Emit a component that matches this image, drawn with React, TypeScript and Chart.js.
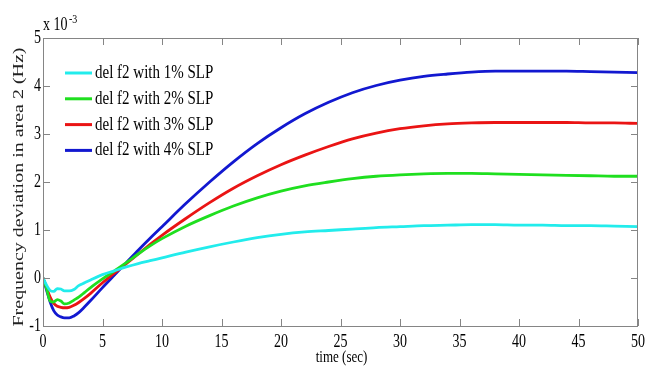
import React, { useEffect, useRef } from "react";
import { Chart, registerables } from "chart.js";

Chart.register(...registerables);

// Simulation time (sec)
const time = [0, 0.3, 0.6, 0.9, 1.2, 1.5, 1.8, 2.2, 2.6, 3, 3.5, 4, 5, 6, 7, 8, 9, 10, 12, 14, 16, 18, 20, 22, 24, 26, 28, 30, 32, 34, 36, 38, 40, 42, 44, 46, 48, 50];

// Frequency deviation in area 2, in units of 1e-3 Hz
const slp1 = [0, -0.15, -0.26, -0.28, -0.22, -0.23, -0.27, -0.27, -0.24, -0.16, -0.1, -0.04, 0.07, 0.15, 0.23, 0.3, 0.36, 0.42, 0.54, 0.65, 0.75, 0.84, 0.91, 0.96, 0.99, 1.02, 1.05, 1.07, 1.09, 1.1, 1.11, 1.11, 1.1, 1.1, 1.09, 1.09, 1.08, 1.07];
const slp2 = [0, -0.22, -0.48, -0.5, -0.45, -0.48, -0.54, -0.52, -0.46, -0.4, -0.3, -0.2, -0.02, 0.15, 0.32, 0.5, 0.67, 0.82, 1.08, 1.3, 1.5, 1.67, 1.81, 1.92, 2.0, 2.07, 2.12, 2.15, 2.17, 2.18, 2.18, 2.17, 2.16, 2.15, 2.14, 2.13, 2.12, 2.12];
const slp3 = [0, -0.2, -0.4, -0.53, -0.59, -0.61, -0.62, -0.61, -0.57, -0.51, -0.42, -0.32, -0.1, 0.1, 0.3, 0.5, 0.7, 0.89, 1.24, 1.57, 1.87, 2.13, 2.36, 2.56, 2.74, 2.9, 3.02, 3.11, 3.17, 3.21, 3.23, 3.24, 3.24, 3.24, 3.24, 3.23, 3.23, 3.22];
const slp4 = [0, -0.25, -0.5, -0.68, -0.77, -0.81, -0.83, -0.83, -0.79, -0.72, -0.6, -0.47, -0.2, 0.06, 0.32, 0.58, 0.83, 1.07, 1.55, 2.0, 2.42, 2.8, 3.13, 3.42, 3.66, 3.86, 4.01, 4.12, 4.2, 4.25, 4.29, 4.31, 4.31, 4.31, 4.31, 4.3, 4.29, 4.28];

const seriesLabels = ["del f2 with 1% SLP", "del f2 with 2% SLP", "del f2 with 3% SLP", "del f2 with 4% SLP"];
const seriesColors = ["#22ecec", "#1fdf1f", "#ea1414", "#1218d0"];

const xTicks = [0, 5, 10, 15, 20, 25, 30, 35, 40, 45, 50];
const yTicks = [-1, 0, 1, 2, 3, 4, 5];

const xTitle = "time (sec)";
const yTitle = "Frequency deviation in area 2 (Hz)";

const SERIF = "'Liberation Serif', 'Times New Roman', serif";
const STRETCH = 1.28; // tall, narrow lettering

function drawText(
  ctx: CanvasRenderingContext2D,
  text: string,
  x: number,
  y: number,
  font: string,
  align: CanvasTextAlign,
  baseline: CanvasTextBaseline,
  sx = 1,
  sy = STRETCH,
  rot = 0,
  color = "#000"
) {
  ctx.save();
  ctx.translate(x, y);
  if (rot) ctx.rotate(rot);
  ctx.scale(sx, sy);
  ctx.font = font;
  ctx.textAlign = align;
  ctx.textBaseline = baseline;
  ctx.fillStyle = color;
  ctx.fillText(text, 0, 0);
  ctx.restore();
}

const framePlugin = {
  id: "matlabFrame",
  afterDatasetsDraw(chart: any) {
    const { ctx, chartArea: a, scales } = chart;
    const xs = scales.x;
    const ys = scales.y;
    ctx.save();
    ctx.strokeStyle = "#858585";
    ctx.lineWidth = 1;
    ctx.strokeRect(a.left + 0.5, a.top + 0.5, a.right - a.left - 1, a.bottom - a.top);
    const tl = 7;
    ctx.beginPath();
    for (const t of xs.ticks) {
      const px = Math.round(xs.getPixelForValue(t.value)) + 0.5;
      ctx.moveTo(px, a.bottom);
      ctx.lineTo(px, a.bottom - tl);
      ctx.moveTo(px, a.top);
      ctx.lineTo(px, a.top + tl);
    }
    for (const t of ys.ticks) {
      const py = Math.round(ys.getPixelForValue(t.value)) + 0.5;
      ctx.moveTo(a.left, py);
      ctx.lineTo(a.left + tl, py);
      ctx.moveTo(a.right, py);
      ctx.lineTo(a.right - tl, py);
    }
    ctx.stroke();
    ctx.restore();

    // tick labels
    for (const t of xs.ticks) {
      drawText(ctx, String(t.value), xs.getPixelForValue(t.value), a.bottom + 21, `14px ${SERIF}`, "center", "alphabetic");
    }
    for (const t of ys.ticks) {
      drawText(ctx, String(t.value), a.left - 2, ys.getPixelForValue(t.value) + 5, `14px ${SERIF}`, "right", "alphabetic");
    }

    // exponent
    drawText(ctx, "x 10", a.left, a.top - 8, `14px ${SERIF}`, "left", "alphabetic");
    drawText(ctx, "-3", a.left + 26, a.top - 15, `10px ${SERIF}`, "left", "alphabetic");

    // axis titles
    drawText(ctx, xTitle, (a.left + a.right) / 2 + 1, a.bottom + 36, `13px ${SERIF}`, "center", "alphabetic");
    ctx.save();
    ctx.font = `13px ${SERIF}`;
    const w = ctx.measureText(yTitle).width;
    ctx.restore();
    const target = 279;
    drawText(ctx, yTitle, 23, 187, `13px ${SERIF}`, "center", "alphabetic", target / w, 1.05, -Math.PI / 2, "#222");

    // legend
    chart.data.datasets.forEach((ds: any, i: number) => {
      const ry = 73 + i * 25.8;
      ctx.save();
      ctx.strokeStyle = ds.borderColor;
      ctx.lineWidth = 3;
      ctx.beginPath();
      ctx.moveTo(65, ry);
      ctx.lineTo(92, ry);
      ctx.stroke();
      ctx.restore();
      drawText(ctx, ds.label, 95, ry + 5, `15px ${SERIF}`, "left", "alphabetic", 1, 1.22);
    });
  },
};

export default function App() {
  const ref = useRef<HTMLCanvasElement>(null);

  useEffect(() => {
    if (!ref.current) return;
    const series = [slp1, slp2, slp3, slp4];
    const chart = new Chart(ref.current, {
      type: "line",
      data: {
        datasets: series.map((vals, i) => ({
          label: seriesLabels[i],
          data: vals.map((v, k) => ({ x: time[k], y: v })),
          borderColor: seriesColors[i],
          backgroundColor: seriesColors[i],
          borderWidth: 2.8,
          pointRadius: 0,
          cubicInterpolationMode: "monotone" as const,
          fill: false,
        })),
      },
      options: {
        responsive: false,
        animation: false,
        layout: { padding: { left: 0, top: 38, right: 12, bottom: 0 } },
        plugins: { legend: { display: false }, tooltip: { enabled: false } },
        scales: {
          x: {
            type: "linear",
            min: 0,
            max: 50,
            grid: { display: false },
            border: { display: false },
            ticks: { display: false },
            afterBuildTicks: (s: any) => {
              s.ticks = xTicks.map((v) => ({ value: v }));
            },
            afterFit: (s: any) => {
              s.height = 44;
            },
          },
          y: {
            type: "linear",
            min: -1,
            max: 5,
            grid: { display: false },
            border: { display: false },
            ticks: { display: false },
            afterBuildTicks: (s: any) => {
              s.ticks = yTicks.map((v) => ({ value: v }));
            },
            afterFit: (s: any) => {
              s.width = 43;
            },
          },
        },
      },
      plugins: [framePlugin],
    });
    return () => chart.destroy();
  }, []);

  return (
    <div style={{ position: "fixed", left: 0, top: 0, width: 650, height: 370, background: "#fff" }}>
      <canvas ref={ref} width={650} height={370} style={{ display: "block" }} />
    </div>
  );
}
